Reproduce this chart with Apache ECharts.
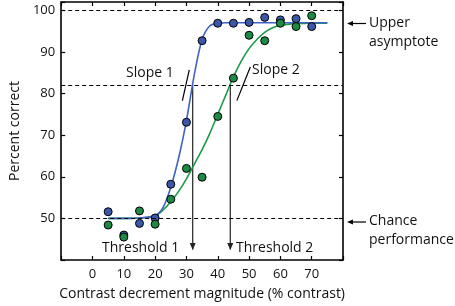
<!DOCTYPE html>
<html>
<head>
<meta charset="utf-8">
<script src="https://cdn.jsdelivr.net/npm/echarts@6/dist/echarts.min.js"></script>
<style>
  html, body { margin: 0; padding: 0; background: #fff; }
  #chart { width: 455px; height: 306px; }
</style>
</head>
<body>
<div id="chart"></div>
<script>
// measured data points (contrast %, percent correct)
const contrast = [5, 10, 15, 20, 25, 30, 35, 40, 45, 50, 55, 60, 65, 70]
const bluePoints = [51.6, 46, 48.8, 50.1, 58.2, 73.1, 92.7, 96.9, 96.9, 97.1, 98.3, 97.7, 98, 96.1]
const greenPoints = [48.4, 45.5, 51.8, 48.6, 54.6, 62, 59.9, 74.5, 83.7, 94, 92.7, 96.9, 96.1, 98.7]

// fitted curves
const fitX = [5, 10, 15, 20, 22.5, 25, 27.5, 30, 32.5, 35, 37.5, 40, 42.5, 45, 47.5, 50, 52.5, 55, 57.5, 60, 65, 70, 75]
const blueFit = [50, 50, 50.1, 50.7, 52.6, 57.5, 64.5, 73.5, 84.5, 93, 96.3, 96.8, 97, 97, 97, 97, 97, 97, 97, 97, 97, 97, 97]
const greenFit = [50, 50, 50.1, 50.6, 52, 54, 56.5, 59.5, 63, 66.5, 70.5, 75, 79.5, 84, 87.8, 90.8, 93, 94.7, 95.8, 96.4, 96.8, 96.9, 96.9]

// reference levels and thresholds
const dashedLevels = [100, 82, 50]
const thresholds = [32, 44]
const criterion = 82
const arrowEnd = 42.5
const slope1 = [[28.7, 78.3], [30.9, 85.7]]
const slope2 = [[46.1, 78.3], [50.4, 86.4]]

const xTickLabels = [0, 10, 20, 30, 40, 50, 60, 70]
const yTickLabels = [50, 60, 70, 80, 90, 100]

const blueLine = '#3f62c4'
const blueDot = '#3a57a8'
const greenLine = '#1c9a4c'
const greenDot = '#1d8a44'
const font = '"Open Sans", "Noto Sans", sans-serif'

const zip = (xs, ys) => xs.map((x, i) => [x, ys[i]])

const chart = echarts.init(document.getElementById('chart'))

const tickStyle = { inside: true, length: 4, lineStyle: { color: '#000', width: 1.2 } }
const frameLine = { show: true, onZero: false, lineStyle: { color: '#000', width: 1.6 } }

const thresholdSeries = thresholds.map(t => ({
  type: 'line', data: [[t, criterion], [t, arrowEnd]], showSymbol: false, silent: true,
  lineStyle: { color: '#222', width: 1.2 }, z: 2
}))

const option = {
  animation: false,
  grid: { left: 50, right: 112, top: 2, bottom: 43 },
  textStyle: { fontFamily: font },
  xAxis: [
    {
      type: 'value', min: -10, max: 80, interval: 10,
      axisLine: frameLine, axisTick: tickStyle, splitLine: { show: false },
      axisLabel: {
        color: '#111', fontSize: 13, margin: 8, fontFamily: font,
        formatter: v => xTickLabels.includes(v) ? String(v) : ''
      },
      name: 'Contrast decrement magnitude (% contrast)',
      nameLocation: 'middle', nameGap: 27,
      nameTextStyle: { color: '#111', fontSize: 14, fontFamily: font }
    },
    {
      type: 'value', position: 'top', min: -10, max: 80, interval: 10,
      axisLine: frameLine, axisTick: tickStyle, axisLabel: { show: false }, splitLine: { show: false }
    }
  ],
  yAxis: [
    {
      type: 'value', min: 40, max: 102, interval: 10,
      axisLine: frameLine, axisTick: tickStyle, splitLine: { show: false },
      axisLabel: {
        color: '#111', fontSize: 13, margin: 6, fontFamily: font,
        formatter: v => yTickLabels.includes(v) ? String(v) : ''
      },
      name: 'Percent correct', nameLocation: 'middle', nameGap: 33,
      nameTextStyle: { color: '#111', fontSize: 14, fontFamily: font }
    },
    {
      type: 'value', position: 'right', min: 40, max: 102, interval: 10,
      axisLine: frameLine, axisTick: tickStyle, axisLabel: { show: false }, splitLine: { show: false }
    }
  ],
  series: [
    {
      type: 'line', data: [], silent: true,
      markLine: {
        silent: true, symbol: 'none', label: { show: false },
        lineStyle: { color: '#000', type: [4, 3], width: 1.1 },
        data: dashedLevels.map(v => ({ yAxis: v }))
      }
    },
    ...thresholdSeries,
    {
      type: 'scatter', data: thresholds.map(t => [t, arrowEnd]), silent: true,
      symbol: 'triangle', symbolRotate: 180, symbolSize: [6, 7], symbolOffset: [0, -3],
      itemStyle: { color: '#222', opacity: 1 }, z: 2
    },
    {
      type: 'line', data: slope1, showSymbol: false, silent: true,
      lineStyle: { color: '#000', width: 1.2 }
    },
    {
      type: 'line', data: slope2, showSymbol: false, silent: true,
      lineStyle: { color: '#000', width: 1.2 }
    },
    {
      type: 'line', data: zip(fitX, greenFit), smooth: 0.3, showSymbol: false,
      lineStyle: { color: greenLine, width: 1.6 }, z: 3
    },
    {
      type: 'line', data: zip(fitX, blueFit), smooth: 0.3, showSymbol: false,
      lineStyle: { color: blueLine, width: 1.6 }, z: 3
    },
    {
      type: 'scatter', data: zip(contrast, bluePoints), symbolSize: 8,
      itemStyle: { color: blueDot, borderColor: '#000', borderWidth: 1, opacity: 1 }, z: 4
    },
    {
      type: 'scatter', data: zip(contrast, greenPoints), symbolSize: 8,
      itemStyle: { color: greenDot, borderColor: '#000', borderWidth: 1, opacity: 1 }, z: 4
    }
  ],
  graphic: [
    { type: 'text', left: 126, top: 66, style: { text: 'Slope 1', font: '14px ' + font, fill: '#111' } },
    { type: 'text', left: 252, top: 63, style: { text: 'Slope 2', font: '14px ' + font, fill: '#111' } },
    { type: 'text', left: 102, top: 241, style: { text: 'Threshold 1', font: '14px ' + font, fill: '#111' } },
    { type: 'text', left: 236, top: 241, style: { text: 'Threshold 2', font: '14px ' + font, fill: '#111' } },
    { type: 'text', left: 369, top: 14, style: { text: 'Upper\nasymptote', font: '14px ' + font, fill: '#111', lineHeight: 19 } },
    { type: 'text', left: 369, top: 212, style: { text: 'Chance\nperformance', font: '14px ' + font, fill: '#111', lineHeight: 19 } },
    { type: 'line', shape: { x1: 352, y1: 23.5, x2: 366, y2: 23.5 }, style: { stroke: '#000', lineWidth: 1.2 } },
    { type: 'polygon', shape: { points: [[347, 23.5], [353, 21], [353, 26]] }, style: { fill: '#000' } },
    { type: 'line', shape: { x1: 352, y1: 222, x2: 366, y2: 222 }, style: { stroke: '#000', lineWidth: 1.2 } },
    { type: 'polygon', shape: { points: [[347, 222], [353, 219.5], [353, 224.5]] }, style: { fill: '#000' } }
  ]
}

chart.setOption(option)
</script>
</body>
</html>
